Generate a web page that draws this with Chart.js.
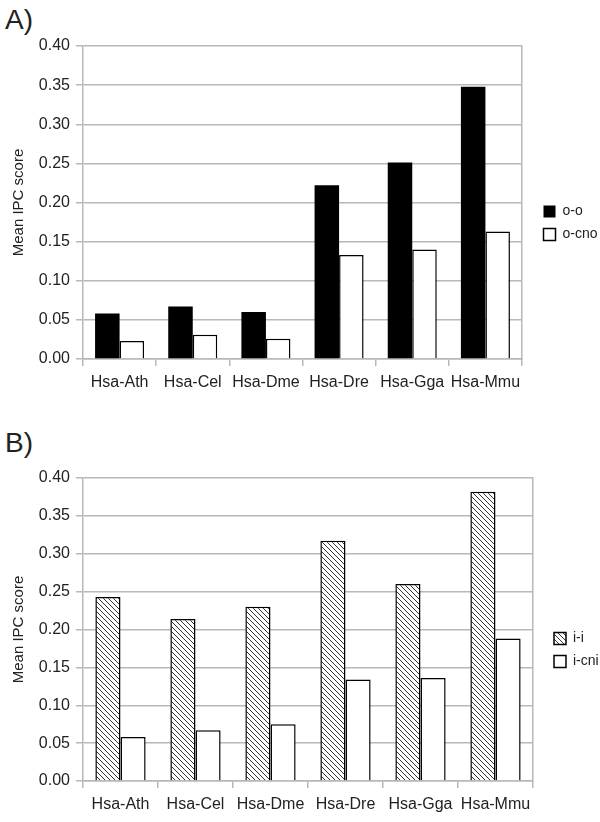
<!DOCTYPE html>
<html>
<head>
<meta charset="utf-8">
<script src="https://cdn.jsdelivr.net/npm/chart.js@4.4.0/dist/chart.umd.min.js"></script>
<style>
  body { margin: 0; background: #fff; width: 600px; height: 822px; position: relative; overflow: hidden; }
  .panel { position: absolute; left: 0; width: 600px; }
  .tag { position: absolute; left: 5px; font: 28px "Liberation Sans", Arial, sans-serif; color: #222; line-height: 1; }
</style>
</head>
<body>
<div class="tag" style="top:6px">A)</div>
<div class="panel" style="top:0; height:400px"><canvas id="chartA" width="600" height="400"></canvas></div>
<div class="tag" style="top:429px">B)</div>
<div class="panel" style="top:400px; height:422px"><canvas id="chartB" width="600" height="422"></canvas></div>

<script>
var categories = ['Hsa-Ath', 'Hsa-Cel', 'Hsa-Dme', 'Hsa-Dre', 'Hsa-Gga', 'Hsa-Mmu'];

// panel A
var ooValues   = [0.058, 0.067, 0.060, 0.222, 0.251, 0.348];
var ocnoValues = [0.023, 0.031, 0.026, 0.133, 0.140, 0.163];

// panel B
var iiValues   = [0.243, 0.214, 0.230, 0.317, 0.260, 0.382];
var icniValues = [0.058, 0.067, 0.075, 0.134, 0.136, 0.188];

var yMin = 0, yMax = 0.40, yStep = 0.05;
var yTitle = 'Mean IPC score';

var gridColor = '#b8b8b8';
var textColor = '#222';
var fontFamily = '"Liberation Sans", Arial, sans-serif';

// diagonal hatch for the i-i bars
function makeHatch() {
    var s = 5;
    var c = document.createElement('canvas');
    c.width = s; c.height = s;
    var g = c.getContext('2d');
    g.fillStyle = '#fff';
    g.fillRect(0, 0, s, s);
    g.strokeStyle = '#333';
    g.lineWidth = 1;
    g.beginPath();
    g.moveTo(-1, -1); g.lineTo(s + 1, s + 1);
    g.moveTo(s - 1, -1); g.lineTo(s + 1, 1);
    g.moveTo(-1, s - 1); g.lineTo(1, s + 1);
    g.stroke();
    return g.createPattern(c, 'repeat');
}

// gap = space between plot frame and legend, legendW = legend box width
function makeChart(id, datasets, padTop, gap, legendW) {
    var ctx = document.getElementById(id).getContext('2d');
    return new Chart(ctx, {
        type: 'bar',
        data: { labels: categories, datasets: datasets },
        options: {
            responsive: false,
            animation: false,
            layout: { padding: { top: padTop, right: 0, left: 0, bottom: 0 } },
            datasets: { bar: { categoryPercentage: 0.67, barPercentage: 1.0 } },
            plugins: {
                tooltip: { enabled: false },
                legend: {
                    position: 'right',
                    maxWidth: legendW,
                    labels: {
                        boxWidth: 12, boxHeight: 12, padding: 9,
                        color: textColor,
                        font: { family: fontFamily, size: 14 }
                    }
                }
            },
            scales: {
                x: {
                    afterFit: function (scale) { scale.height = 41; },
                    grid: {
                        drawOnChartArea: false,
                        color: gridColor,
                        lineWidth: 1.5,
                        tickLength: 7
                    },
                    border: { color: gridColor, width: 1.5 },
                    ticks: {
                        color: textColor,
                        padding: 7,
                        maxRotation: 0,
                        minRotation: 0,
                        autoSkip: false,
                        font: { family: fontFamily, size: 16 }
                    }
                },
                y: {
                    min: yMin,
                    max: yMax,
                    afterFit: function (scale) { scale.width = 83; },
                    grid: { color: gridColor, lineWidth: 1.5, tickLength: 7 },
                    border: { color: gridColor, width: 1.5 },
                    ticks: {
                        stepSize: yStep,
                        color: textColor,
                        padding: 6,
                        font: { family: fontFamily, size: 16 },
                        callback: function (v) { return v.toFixed(2); }
                    },
                    title: {
                        display: true,
                        text: yTitle,
                        color: textColor,
                        padding: { top: 10, bottom: 0 },
                        font: { family: fontFamily, size: 15 }
                    }
                },
                // right frame line + spacing before the legend
                yRight: {
                    position: 'right',
                    min: yMin,
                    max: yMax,
                    afterFit: function (scale) { scale.width = gap; },
                    grid: { display: false },
                    ticks: { display: false },
                    border: { color: gridColor, width: 1.5 }
                }
            }
        }
    });
}

makeChart('chartA', [
    { label: 'o-o', data: ooValues, backgroundColor: '#000', borderColor: '#000', borderWidth: 0 },
    { label: 'o-cno', data: ocnoValues, backgroundColor: '#fff', borderColor: '#000', borderWidth: 1.5 }
], 46, 12.5, 65.5);

makeChart('chartB', [
    { label: 'i-i', data: iiValues, backgroundColor: makeHatch(), borderColor: '#000', borderWidth: 1.5 },
    { label: 'i-cni', data: icniValues, backgroundColor: '#fff', borderColor: '#000', borderWidth: 1.5 }
], 78, 12, 55);
</script>
</body>
</html>
